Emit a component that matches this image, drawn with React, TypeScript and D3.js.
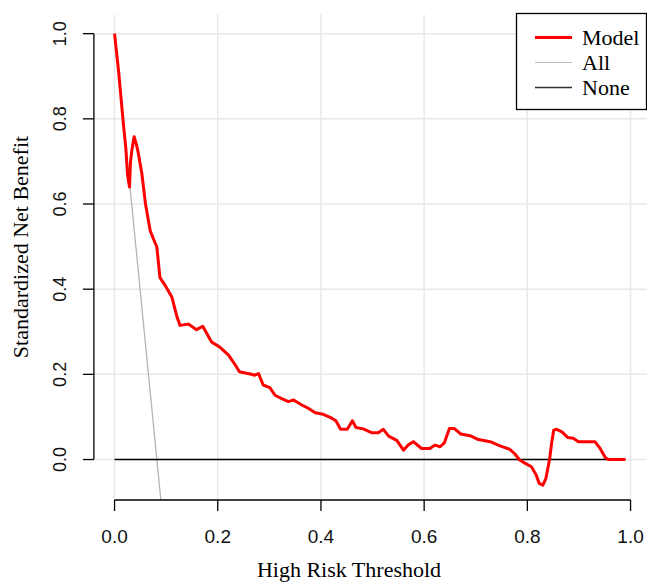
import * as d3 from 'd3';

const xTicks = [0, 0.2, 0.4, 0.6, 0.8, 1.0];
const yTicks = [0, 0.2, 0.4, 0.6, 0.8, 1.0];

// standardized net benefit
const modelX = [0, 0.008, 0.017, 0.022, 0.025, 0.029, 0.031, 0.034, 0.038, 0.042, 0.045, 0.053, 0.06, 0.069, 0.075, 0.082, 0.088, 0.098, 0.106, 0.111, 0.121, 0.127, 0.143, 0.159, 0.171, 0.188, 0.204, 0.221, 0.234, 0.242, 0.263, 0.272, 0.279, 0.288, 0.301, 0.311, 0.324, 0.337, 0.347, 0.363, 0.376, 0.389, 0.402, 0.418, 0.429, 0.438, 0.451, 0.461, 0.468, 0.482, 0.498, 0.511, 0.521, 0.531, 0.547, 0.56, 0.569, 0.579, 0.595, 0.611, 0.621, 0.631, 0.639, 0.649, 0.658, 0.671, 0.689, 0.705, 0.728, 0.747, 0.766, 0.776, 0.785, 0.796, 0.808, 0.817, 0.823, 0.83, 0.836, 0.843, 0.847, 0.851, 0.857, 0.867, 0.878, 0.889, 0.899, 0.931, 0.941, 0.951, 0.957, 0.99];
const modelY = [1.0, 0.91, 0.79, 0.73, 0.67, 0.64, 0.7, 0.73, 0.758, 0.741, 0.726, 0.671, 0.6, 0.538, 0.519, 0.499, 0.427, 0.409, 0.392, 0.382, 0.335, 0.315, 0.318, 0.305, 0.313, 0.276, 0.264, 0.245, 0.222, 0.206, 0.201, 0.198, 0.202, 0.175, 0.169, 0.151, 0.143, 0.136, 0.14, 0.128, 0.12, 0.11, 0.107, 0.099, 0.091, 0.071, 0.071, 0.091, 0.075, 0.072, 0.063, 0.063, 0.071, 0.055, 0.045, 0.022, 0.034, 0.042, 0.026, 0.026, 0.034, 0.03, 0.039, 0.073, 0.073, 0.06, 0.056, 0.047, 0.042, 0.032, 0.024, 0.013, -0.001, -0.009, -0.017, -0.036, -0.056, -0.06, -0.044, 0.0, 0.038, 0.069, 0.071, 0.065, 0.052, 0.05, 0.042, 0.042, 0.026, 0.005, 0.0, 0.0];

const allX = [0, 0.03, 0.06, 0.082, 0.095];
const allY = [1.0, 0.64, 0.27, 0.0, -0.16];

const noneX = [0, 0.99];
const noneY = [0, 0];

const legendLabels = ['Model', 'All', 'None'];
const legendColors = ['#ff0000', '#bebebe', '#333333'];
const legendWidths = [3, 1.2, 1.5];

const zip = (xs: number[], ys: number[]) => xs.map((x, i) => [x, ys[i]] as [number, number]);

export default function App() {
  const width = 647;
  const height = 582;

  const x = d3.scaleLinear().domain([-0.04, 1.04]).range([93.9, 651.2]);
  const y = d3.scaleLinear().domain([-0.095, 1.045]).range([500, 14.5]);

  const line = d3.line<[number, number]>().x(d => x(d[0])).y(d => y(d[1]));

  const [x0, x1] = x.range();
  const [y0, y1] = y.range();

  const sans = 'Liberation Sans, Arial, sans-serif';
  const serif = 'Liberation Serif, Times New Roman, serif';

  return (
    <svg width={width} height={height} style={{ position: 'absolute', left: 0, top: 0, background: '#fff' }}>
      <defs>
        <clipPath id="plot">
          <rect x={x0} y={y1} width={x1 - x0} height={y0 - y1} />
        </clipPath>
      </defs>

      {/* grid */}
      <g stroke="#e8e8e8" strokeWidth={1.5}>
        {xTicks.map(t => (
          <line key={'gx' + t} x1={x(t)} x2={x(t)} y1={y1} y2={y0} />
        ))}
        {yTicks.map(t => (
          <line key={'gy' + t} x1={x0} x2={x1} y1={y(t)} y2={y(t)} />
        ))}
      </g>

      <g clipPath="url(#plot)" fill="none">
        <path d={line(zip(allX, allY)) || ''} stroke="#b4b4b4" strokeWidth={1.3} />
        <path d={line(zip(noneX, noneY)) || ''} stroke="#000" strokeWidth={1.5} />
        <path d={line(zip(modelX, modelY)) || ''} stroke="#ff0000" strokeWidth={3} strokeLinejoin="round" />
      </g>

      {/* y axis */}
      <g stroke="#000" strokeWidth={1.3}>
        <line x1={x0} x2={x0} y1={y(0)} y2={y(1)} />
        {yTicks.map(t => (
          <line key={'yt' + t} x1={x0 - 11} x2={x0} y1={y(t)} y2={y(t)} />
        ))}
      </g>
      {yTicks.map(t => (
        <text
          key={'yl' + t}
          transform={`translate(${x0 - 34},${y(t)}) rotate(-90)`}
          textAnchor="middle"
          dy="0.35em"
          fontFamily={sans}
          fontSize={18}
          fill="#111"
        >
          {t.toFixed(1)}
        </text>
      ))}

      {/* x axis */}
      <g stroke="#000" strokeWidth={1.3}>
        <line x1={x(0)} x2={x(1)} y1={y0} y2={y0} />
        {xTicks.map(t => (
          <line key={'xt' + t} x1={x(t)} x2={x(t)} y1={y0} y2={y0 + 11} />
        ))}
      </g>
      {xTicks.map(t => (
        <text
          key={'xl' + t}
          x={x(t)}
          y={y0 + 43}
          textAnchor="middle"
          fontFamily={sans}
          fontSize={19}
          fill="#111"
        >
          {t.toFixed(1)}
        </text>
      ))}

      <text x={349} y={577} textAnchor="middle" fontFamily={serif} fontSize={22} fill="#000">
        High Risk Threshold
      </text>
      <text
        transform="translate(28,247) rotate(-90)"
        textAnchor="middle"
        fontFamily={serif}
        fontSize={22}
        fill="#000"
      >
        Standardized Net Benefit
      </text>

      {/* legend */}
      <g>
        <rect x={516.5} y={13.5} width={130} height={96} fill="#fff" stroke="#000" strokeWidth={1.3} />
        {legendLabels.map((lab, i) => (
          <g key={lab} transform={`translate(0,${37.5 + i * 25})`}>
            <line x1={535} x2={572} y1={0} y2={0} stroke={legendColors[i]} strokeWidth={legendWidths[i]} />
            <text x={582} y={0} dy="0.33em" fontFamily={serif} fontSize={22} fill="#000">
              {lab}
            </text>
          </g>
        ))}
      </g>
    </svg>
  );
}
